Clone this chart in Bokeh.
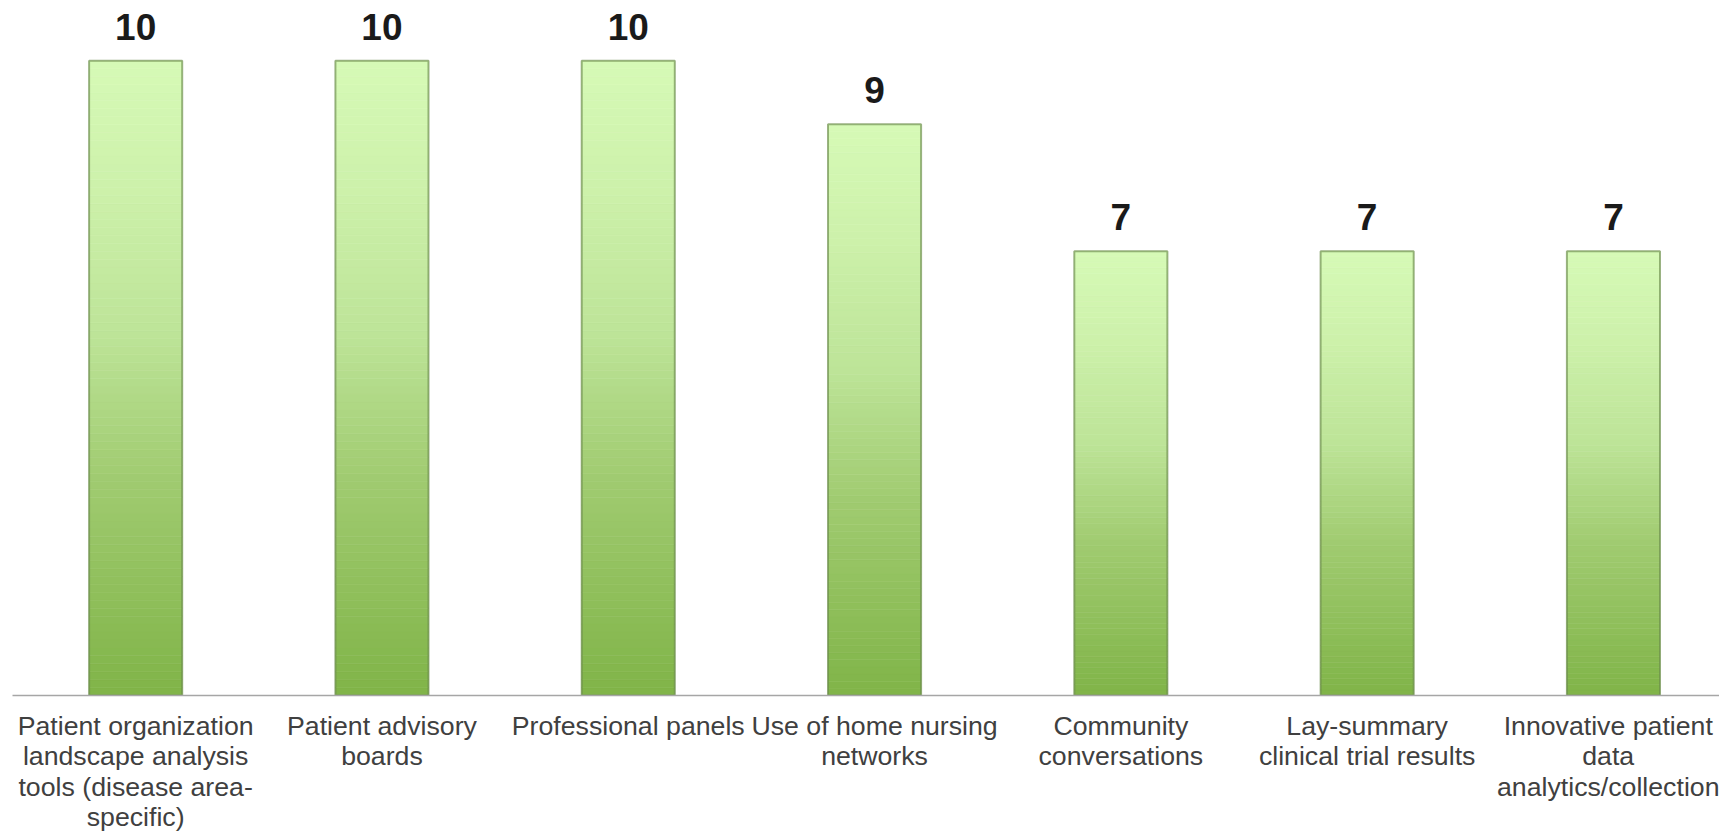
from bokeh.plotting import figure
from bokeh.models import FixedTicker, Range1d, ColumnDataSource
from bokeh.core.properties import value
from bokeh.embed import file_html
from bokeh.resources import INLINE

categories = [
    "Patient organization\nlandscape analysis\ntools (disease area-\nspecific)",
    "Patient advisory\nboards",
    "Professional panels",
    "Use of home nursing\nnetworks",
    "Community\nconversations",
    "Lay-summary\nclinical trial results",
    "Innovative patient\ndata\nanalytics/collection",
]
counts = [10, 10, 10, 9, 7, 7, 7]

FONT = "Liberation Sans"
BAR_W = 0.378
N_SEG = 80

# gradient stops (t=0 top of bar, t=1 bottom)
stops = [(0.0, (0xd6, 0xfa, 0xb6)), (0.2, (0xcd, 0xf1, 0xab)), (0.43, (0xbd, 0xe4, 0x98)),
         (0.66, (0xa0, 0xcb, 0x70)), (1.0, (0x80, 0xb4, 0x48))]


def grad(t):
    for (t0, c0), (t1, c1) in zip(stops[:-1], stops[1:]):
        if t0 <= t <= t1:
            f = (t - t0) / (t1 - t0)
            return "#%02x%02x%02x" % tuple(int(round(a + (b - a) * f)) for a, b in zip(c0, c1))
    return "#%02x%02x%02x" % stops[-1][1]


xs = list(range(len(categories)))

p = figure(width=1719, height=835, output_backend="svg", toolbar_location=None,
           x_range=Range1d(-0.5, -0.5 + 1707 / 246.3), y_range=Range1d(0, 10.95),
           min_border_left=12, min_border_right=0, min_border_top=0, min_border_bottom=0)
p.outline_line_color = None
p.grid.visible = False
p.yaxis.visible = False
p.background_fill_color = "white"

# gradient bars built from segments of each bar's value
seg = dict(left=[], right=[], bottom=[], top=[], color=[])
for x, v in zip(xs, counts):
    for k in range(N_SEG):
        seg["left"].append(x - BAR_W / 2)
        seg["right"].append(x + BAR_W / 2)
        seg["bottom"].append(v * k / N_SEG)
        seg["top"].append(v * (k + 1) / N_SEG)
        seg["color"].append(grad(1 - (k + 0.5) / N_SEG))
p.quad(left="left", right="right", bottom="bottom", top="top", source=ColumnDataSource(seg),
       fill_color="color", line_color="color", line_width=0.6)

src = ColumnDataSource(dict(x=xs, v=counts, lbl=[str(c) for c in counts],
                            l=[x - BAR_W / 2 for x in xs], r=[x + BAR_W / 2 for x in xs]))
# bevel edges
p.quad(left="l", right="r", bottom=0, top="v", source=src, fill_color=None,
       line_color="#6a8a4c", line_alpha=0.65, line_width=2)

p.text(x="x", y="v", text="lbl", source=src, text_font=value(FONT), text_font_style="bold",
       text_font_size="37px", text_color="#1a1a1a", text_align="center",
       text_baseline="alphabetic", y_offset=-34)

ax = p.xaxis[0]
ax.ticker = FixedTicker(ticks=xs)
ax.major_label_overrides = {i: c for i, c in zip(xs, categories)}
ax.major_tick_line_color = None
ax.minor_tick_line_color = None
ax.axis_line_color = "#a6a6a6"
ax.axis_line_width = 1.5
ax.major_label_text_font = FONT
ax.major_label_text_font_size = "26.7px"
ax.major_label_text_color = "#404040"
ax.major_label_text_line_height = 1.02
ax.major_label_standoff = 9

open("out.html", "w").write(file_html(p, INLINE))
